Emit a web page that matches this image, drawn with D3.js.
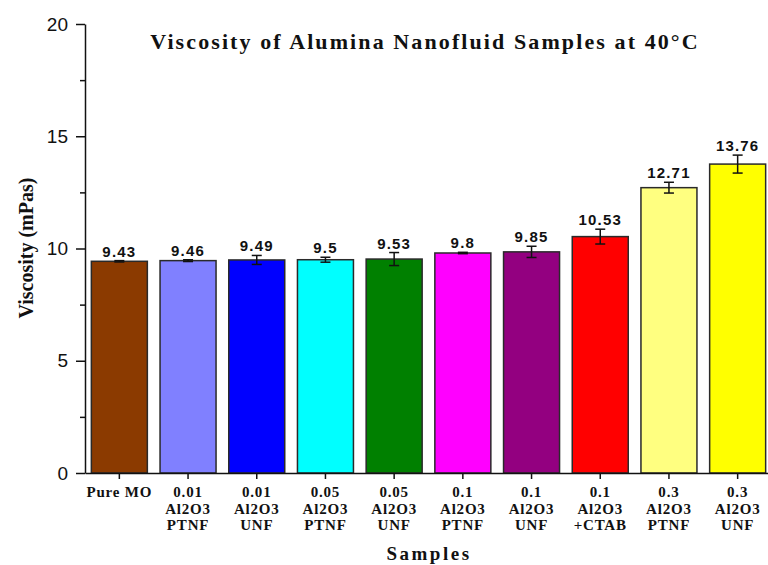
<!DOCTYPE html>
<html>
<head>
<meta charset="utf-8">
<script src="https://cdn.jsdelivr.net/npm/d3@7"></script>
<style>
  body { margin: 0; background: #fff; }
  svg text { fill: #111; }
</style>
</head>
<body>
<svg id="chart"></svg>
<script>
// data
const samples = ["Pure MO", "0.01 Al2O3 PTNF", "0.01 Al2O3 UNF", "0.05 Al2O3 PTNF", "0.05 Al2O3 UNF",
  "0.1 Al2O3 PTNF", "0.1 Al2O3 UNF", "0.1 Al2O3 +CTAB", "0.3 Al2O3 PTNF", "0.3 Al2O3 UNF"];
const labelLines = [["Pure MO"], ["0.01", "Al2O3", "PTNF"], ["0.01", "Al2O3", "UNF"], ["0.05", "Al2O3", "PTNF"],
  ["0.05", "Al2O3", "UNF"], ["0.1", "Al2O3", "PTNF"], ["0.1", "Al2O3", "UNF"], ["0.1", "Al2O3", "+CTAB"],
  ["0.3", "Al2O3", "PTNF"], ["0.3", "Al2O3", "UNF"]];
const viscosity = [9.43, 9.46, 9.49, 9.5, 9.53, 9.8, 9.85, 10.53, 12.71, 13.76];
const errors = [0.03, 0.04, 0.2, 0.11, 0.29, 0.03, 0.25, 0.33, 0.24, 0.4];
const colors = ["#8B3A00", "#8080FF", "#0000FF", "#00FFFF", "#008000", "#FF00FF", "#930080", "#FF0000", "#FFFF80", "#FFFF00"];
const yTicks = [0, 5, 10, 15, 20];

const width = 768, height = 565;
const svg = d3.select("#chart")
  .attr("width", width)
  .attr("height", height);

const x = d3.scaleBand()
  .domain(samples)
  .range([85, 772])
  .padding(0);
const barW = 56;

const y = d3.scaleLinear()
  .domain([0, 20])
  .range([473, 24]);

// bars
svg.selectAll(".bar")
  .data(samples)
  .join("rect")
  .attr("class", "bar")
  .attr("x", d => x(d) + x.bandwidth() / 2 - barW / 2)
  .attr("y", (d, i) => y(viscosity[i]))
  .attr("width", barW)
  .attr("height", (d, i) => y(0) - y(viscosity[i]))
  .attr("fill", (d, i) => colors[i])
  .attr("stroke", "#2a2a2a")
  .attr("stroke-width", 1.5);

// error bars
const err = svg.append("g")
  .attr("stroke", "#111")
  .attr("stroke-width", 1.5);
samples.forEach((d, i) => {
  const cx = x(d) + x.bandwidth() / 2;
  const top = y(viscosity[i] + errors[i]), bot = y(viscosity[i] - errors[i]);
  err.append("line").attr("x1", cx).attr("x2", cx).attr("y1", top).attr("y2", bot);
  err.append("line").attr("x1", cx - 5).attr("x2", cx + 5).attr("y1", top).attr("y2", top);
  err.append("line").attr("x1", cx - 5).attr("x2", cx + 5).attr("y1", bot).attr("y2", bot);
});

// value labels
svg.selectAll(".val")
  .data(samples)
  .join("text")
  .attr("class", "val")
  .attr("x", d => x(d) + x.bandwidth() / 2)
  .attr("y", (d, i) => y(viscosity[i] + errors[i]) - 4)
  .attr("text-anchor", "middle")
  .attr("font-family", "Liberation Sans, Arial, sans-serif")
  .attr("font-weight", "bold")
  .attr("font-size", "15px")
  .attr("letter-spacing", "1.2px")
  .text((d, i) => viscosity[i]);

// y axis with minor ticks
const yAxis = svg.append("g")
  .attr("transform", "translate(85,0)")
  .call(d3.axisLeft(y).tickValues(yTicks).tickSize(9).tickSizeOuter(0).tickFormat(d3.format("d")));
yAxis.select(".domain").attr("stroke", "#111").attr("stroke-width", 1.5);
yAxis.selectAll(".tick line").attr("stroke", "#111").attr("stroke-width", 1.5);
yAxis.selectAll(".tick text")
  .attr("x", -17)
  .attr("font-family", "Liberation Sans, Arial, sans-serif")
  .attr("font-size", "19px")
  .attr("fill", "#111");
svg.append("g")
  .attr("transform", "translate(85,0)")
  .call(d3.axisLeft(y).tickValues([2.5, 7.5, 12.5, 17.5]).tickSize(5).tickFormat(""))
  .call(g => g.select(".domain").remove())
  .selectAll(".tick line").attr("stroke", "#111").attr("stroke-width", 1.5);

// x axis
const xAxis = svg.append("g")
  .attr("transform", "translate(0,473)")
  .call(d3.axisBottom(x).tickSize(6).tickSizeOuter(0).tickFormat(""));
xAxis.select(".domain").attr("stroke", "#111").attr("stroke-width", 1.5);
xAxis.selectAll(".tick line").attr("stroke", "#111").attr("stroke-width", 1.5);

// multi-line x labels
svg.selectAll(".xlab")
  .data(samples)
  .join("text")
  .attr("class", "xlab")
  .attr("text-anchor", "middle")
  .attr("font-family", "Liberation Serif, Times New Roman, serif")
  .attr("font-weight", "bold")
  .attr("font-size", "15px")
  .attr("letter-spacing", "0.8px")
  .each(function(d, i) {
    const t = d3.select(this);
    labelLines[i].forEach((line, j) => {
      t.append("tspan")
        .attr("x", x(d) + x.bandwidth() / 2)
        .attr("y", 497 + j * 16.5)
        .text(line);
    });
  });

// title
svg.append("text")
  .attr("x", 425)
  .attr("y", 49)
  .attr("text-anchor", "middle")
  .attr("font-family", "Liberation Serif, Times New Roman, serif")
  .attr("font-weight", "bold")
  .attr("font-size", "22px")
  .attr("letter-spacing", "2.1px")
  .text("Viscosity of Alumina Nanofluid Samples at 40\u00B0C");

// axis titles
svg.append("text")
  .attr("transform", "translate(33,248) rotate(-90)")
  .attr("text-anchor", "middle")
  .attr("font-family", "Liberation Serif, Times New Roman, serif")
  .attr("font-weight", "bold")
  .attr("font-size", "20px")
  .text("Viscosity (mPas)");

svg.append("text")
  .attr("x", 429)
  .attr("y", 560)
  .attr("text-anchor", "middle")
  .attr("font-family", "Liberation Serif, Times New Roman, serif")
  .attr("font-weight", "bold")
  .attr("font-size", "19px")
  .attr("letter-spacing", "2.5px")
  .text("Samples");
</script>
</body>
</html>
